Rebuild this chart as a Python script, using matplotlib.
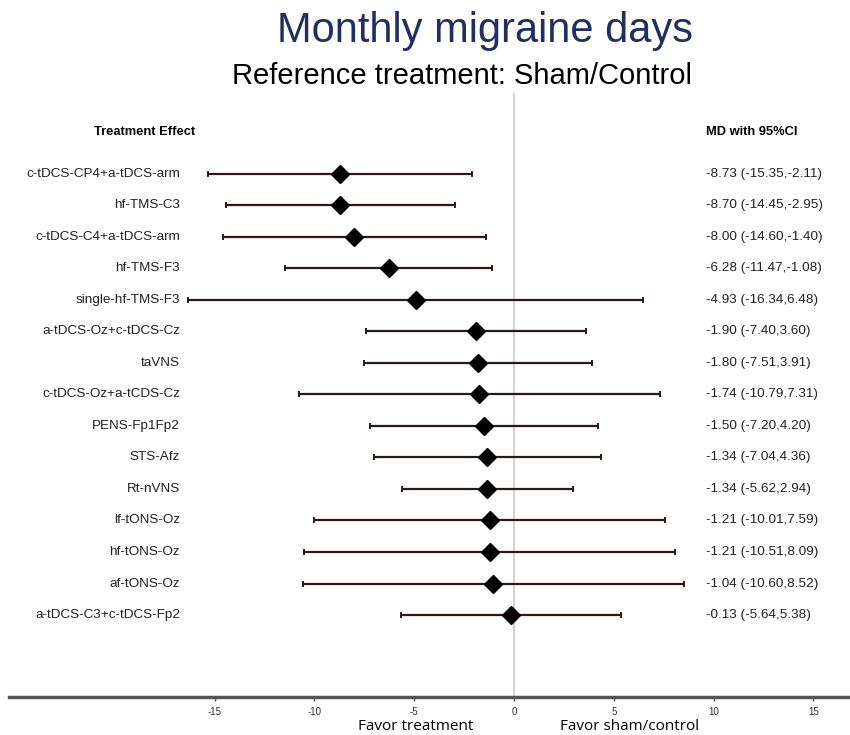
import matplotlib
matplotlib.use('Agg')
import matplotlib.pyplot as plt

treatments = ['c-tDCS-CP4+a-tDCS-arm', 'hf-TMS-C3', 'c-tDCS-C4+a-tDCS-arm',
              'hf-TMS-F3', 'single-hf-TMS-F3', 'a-tDCS-Oz+c-tDCS-Cz', 'taVNS',
              'c-tDCS-Oz+a-tCDS-Cz', 'PENS-Fp1Fp2', 'STS-Afz', 'Rt-nVNS',
              'lf-tONS-Oz', 'hf-tONS-Oz', 'af-tONS-Oz', 'a-tDCS-C3+c-tDCS-Fp2']
md = [-8.73, -8.70, -8.00, -6.28, -4.93, -1.90, -1.80, -1.74, -1.50, -1.34,
      -1.34, -1.21, -1.21, -1.04, -0.13]
lower = [-15.35, -14.45, -14.60, -11.47, -16.34, -7.40, -7.51, -10.79, -7.20,
         -7.04, -5.62, -10.01, -10.51, -10.60, -5.64]
upper = [-2.11, -2.95, -1.40, -1.08, 6.48, 3.60, 3.91, 7.31, 4.20, 4.36, 2.94,
         7.59, 8.09, 8.52, 5.38]
xticks = [-15, -10, -5, 0, 5, 10, 15]

plt.rcParams['font.family'] = ['Liberation Sans', 'DejaVu Sans']
plt.rcParams['axes.unicode_minus'] = False

fig = plt.figure(figsize=(8.5, 7.35), dpi=100)
# axes spans from pixel 9 to 850 horizontally, 93 to 697 vertically
ax = fig.add_axes([9 / 850, 1 - 697 / 735, 841 / 850, (697 - 93) / 735])

rows = list(range(len(treatments)))
xerr = [[m - l for m, l in zip(md, lower)], [u - m for m, u in zip(md, upper)]]

ax.axvline(0, color='#cfcfcf', lw=1.3, zorder=0)
ax.errorbar(md, rows, xerr=xerr, fmt='D', color='black', ms=9,
            ecolor='#2e1717', elinewidth=1.6, capsize=2.5, capthick=1.4,
            zorder=3)

ax.set_xlim(-25.31, 16.84)
ax.set_ylim(16.603, -2.571)

tr = ax.get_yaxis_transform()
for i, (name, m, l, u) in enumerate(zip(treatments, md, lower, upper)):
    ax.text(0.2033, i, name, transform=tr, ha='right', va='center',
            fontsize=9.7, color='#222222')
    ax.text(0.8288, i, f'{m:.2f} ({l:.2f},{u:.2f})', transform=tr,
            ha='left', va='center', fontsize=9.7, color='#222222')

ax.text(0.101, -1.333, 'Treatment Effect', transform=tr, ha='left',
        va='center', fontsize=9.3, fontweight='bold')
ax.text(0.8288, -1.333, 'MD with 95%CI', transform=tr, ha='left',
        va='center', fontsize=9.3, fontweight='bold')

for side in ['top', 'right', 'left']:
    ax.spines[side].set_visible(False)
ax.spines['bottom'].set_color('#555555')
ax.spines['bottom'].set_linewidth(2.5)
ax.set_yticks([])
ax.set_xticks(xticks)
ax.tick_params(axis='x', length=3, width=1, color='#555555', labelsize=7,
               labelcolor='#333333', pad=4)

fig.text(485 / 850, 1 - 31 / 735, 'Monthly migraine days', ha='center',
         va='center', fontsize=30, color='#1f3060')
fig.text(462 / 850, 1 - 76 / 735, 'Reference treatment: Sham/Control',
         ha='center', va='center', fontsize=21, color='black')

fig.text(416 / 850, 1 - 726 / 735, 'Favor treatment', ha='center',
         va='center', fontsize=11, family=['Open Sans', 'DejaVu Sans'])
fig.text(630 / 850, 1 - 726 / 735, 'Favor sham/control', ha='center',
         va='center', fontsize=11, family=['Open Sans', 'DejaVu Sans'])

plt.savefig('out.png', dpi=100)
